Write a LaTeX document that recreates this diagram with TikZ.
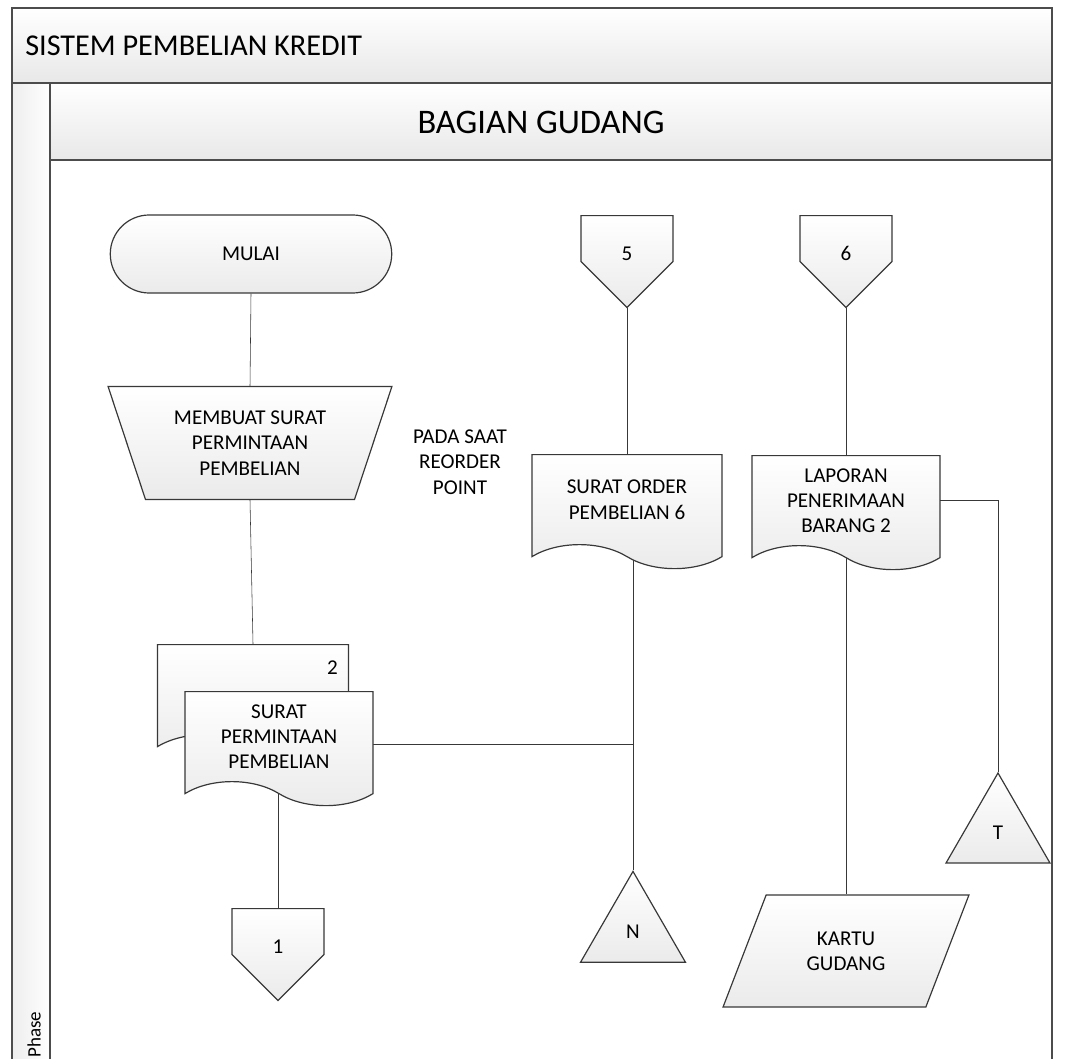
\documentclass[tikz,border=0pt]{standalone}
\usepackage{fontspec}
\setmainfont{Carlito}
\usetikzlibrary{shapes.geometric,shapes.misc,shapes.symbols,backgrounds}

\newcommand{\lowtext}[1]{\raisebox{-0.55cm}[0pt][0pt]{#1}}

\begin{document}
\begin{tikzpicture}[x=0.025cm, y=-0.025cm, line width=0.85pt,
  box/.style={draw=black!78, top color=white, bottom color=black!8, align=center, font=\fontsize{15}{18}\selectfont, inner sep=2pt},
  terminal/.style={box, rounded rectangle, minimum width=7.175cm, minimum height=1.95cm},
  manual/.style={box, trapezium, trapezium stretches, shape border rotate=180, trapezium left angle=68, trapezium right angle=68, minimum width=7.1cm, minimum height=2.825cm},
  doc/.style={box, tape, tape bend top=none, tape bend bottom=out and in, tape bend height=0.6cm, minimum width=4.75cm, minimum height=2.85cm, anchor=north},
  offpage/.style={box, signal, signal to=south, signal pointer angle=90, minimum width=2.3cm, minimum height=1.35cm, anchor=north},
  store/.style={box, regular polygon, regular polygon sides=3, minimum size=3.03cm, inner sep=0pt},
  card/.style={box, trapezium, trapezium stretches, trapezium left angle=63, trapezium right angle=117, minimum width=6.175cm, minimum height=2.8cm},
  wire/.style={draw=black!78},
  band/.style={draw=black!70, top color=white, bottom color=black!9}]

  \path[use as bounding box] (0,0) rectangle (1081,1059);

  % lane frame
  \draw[band] (12,8) rectangle (1052,83);
  \node[anchor=west, font=\fontsize{21.5}{25}\selectfont] (judul) at (20,46) {SISTEM PEMBELIAN KREDIT};
  \draw[band] (50,83) rectangle (1052,160);
  \node[font=\fontsize{24.5}{28}\selectfont] (bagian) at (541,122) {BAGIAN GUDANG};
  \draw[draw=black!70, left color=black!7, right color=white] (12,83) rectangle (50,1080);
  \draw[draw=black!70] (1052,160) -- (1052,1080);
  \node[rotate=90, anchor=west, inner sep=0pt, font=\fontsize{13.5}{16}\selectfont] (phase) at (34,1058) {Phase};

  % symbols
  \node[terminal] (mulai) at (251,254) {MULAI};
  \node[manual] (buat) at (250,443) {MEMBUAT SURAT\\PERMINTAAN\\PEMBELIAN};
  \node[doc, minimum width=4.775cm, label={[anchor=north east, xshift=-0.15cm, yshift=-0.3cm, font=\fontsize{15}{18}\selectfont]north east:2}] (spp2) at (253,644) {};
  \node[doc, minimum width=4.7cm] (spp1) at (279,691) {SURAT\\PERMINTAAN\\PEMBELIAN};
  \node[offpage] (off1) at (278,908) {\lowtext{1}};
  \node[offpage] (off5) at (627,215) {\lowtext{5}};
  \node[offpage] (off6) at (846,215) {\lowtext{6}};
  \node[doc] (sop) at (627,454) {SURAT ORDER\\PEMBELIAN 6};
  \node[doc, minimum width=4.7cm] (lpb) at (846,455) {LAPORAN\\PENERIMAAN\\BARANG 2};
  \node[store] (arsipn) at (633,932) {N};
  \node[store, minimum size=3cm] (arsipt) at (998,833) {T};
  \node[card] (kartu) at (846,951) {KARTU\\GUDANG};
  \node[align=center, font=\fontsize{15}{18}\selectfont] (reorder) at (460,462) {PADA SAAT\\REORDER\\POINT};

  % flow lines
  \begin{scope}[on background layer]
    \draw[wire] (mulai.south) -- (buat.north);
    \draw[wire] (buat.south) -- (spp2.north);
    \draw[wire] (off1.north |- spp1.center) -- (off1.north);
    \draw[wire] ([yshift=-0.2cm]spp1.center) -- ([yshift=-0.2cm]spp1.center -| arsipn.north);
    \draw[wire] (off5.south) -- (sop.north);
    \draw[wire] (arsipn.north |- sop.center) -- (arsipn.north);
    \draw[wire] (off6.south) -- (lpb.north);
    \draw[wire] (kartu.north |- lpb.center) -- (kartu.north);
    \draw[wire] (lpb.center) -| (arsipt.north);
  \end{scope}
\end{tikzpicture}
\end{document}
